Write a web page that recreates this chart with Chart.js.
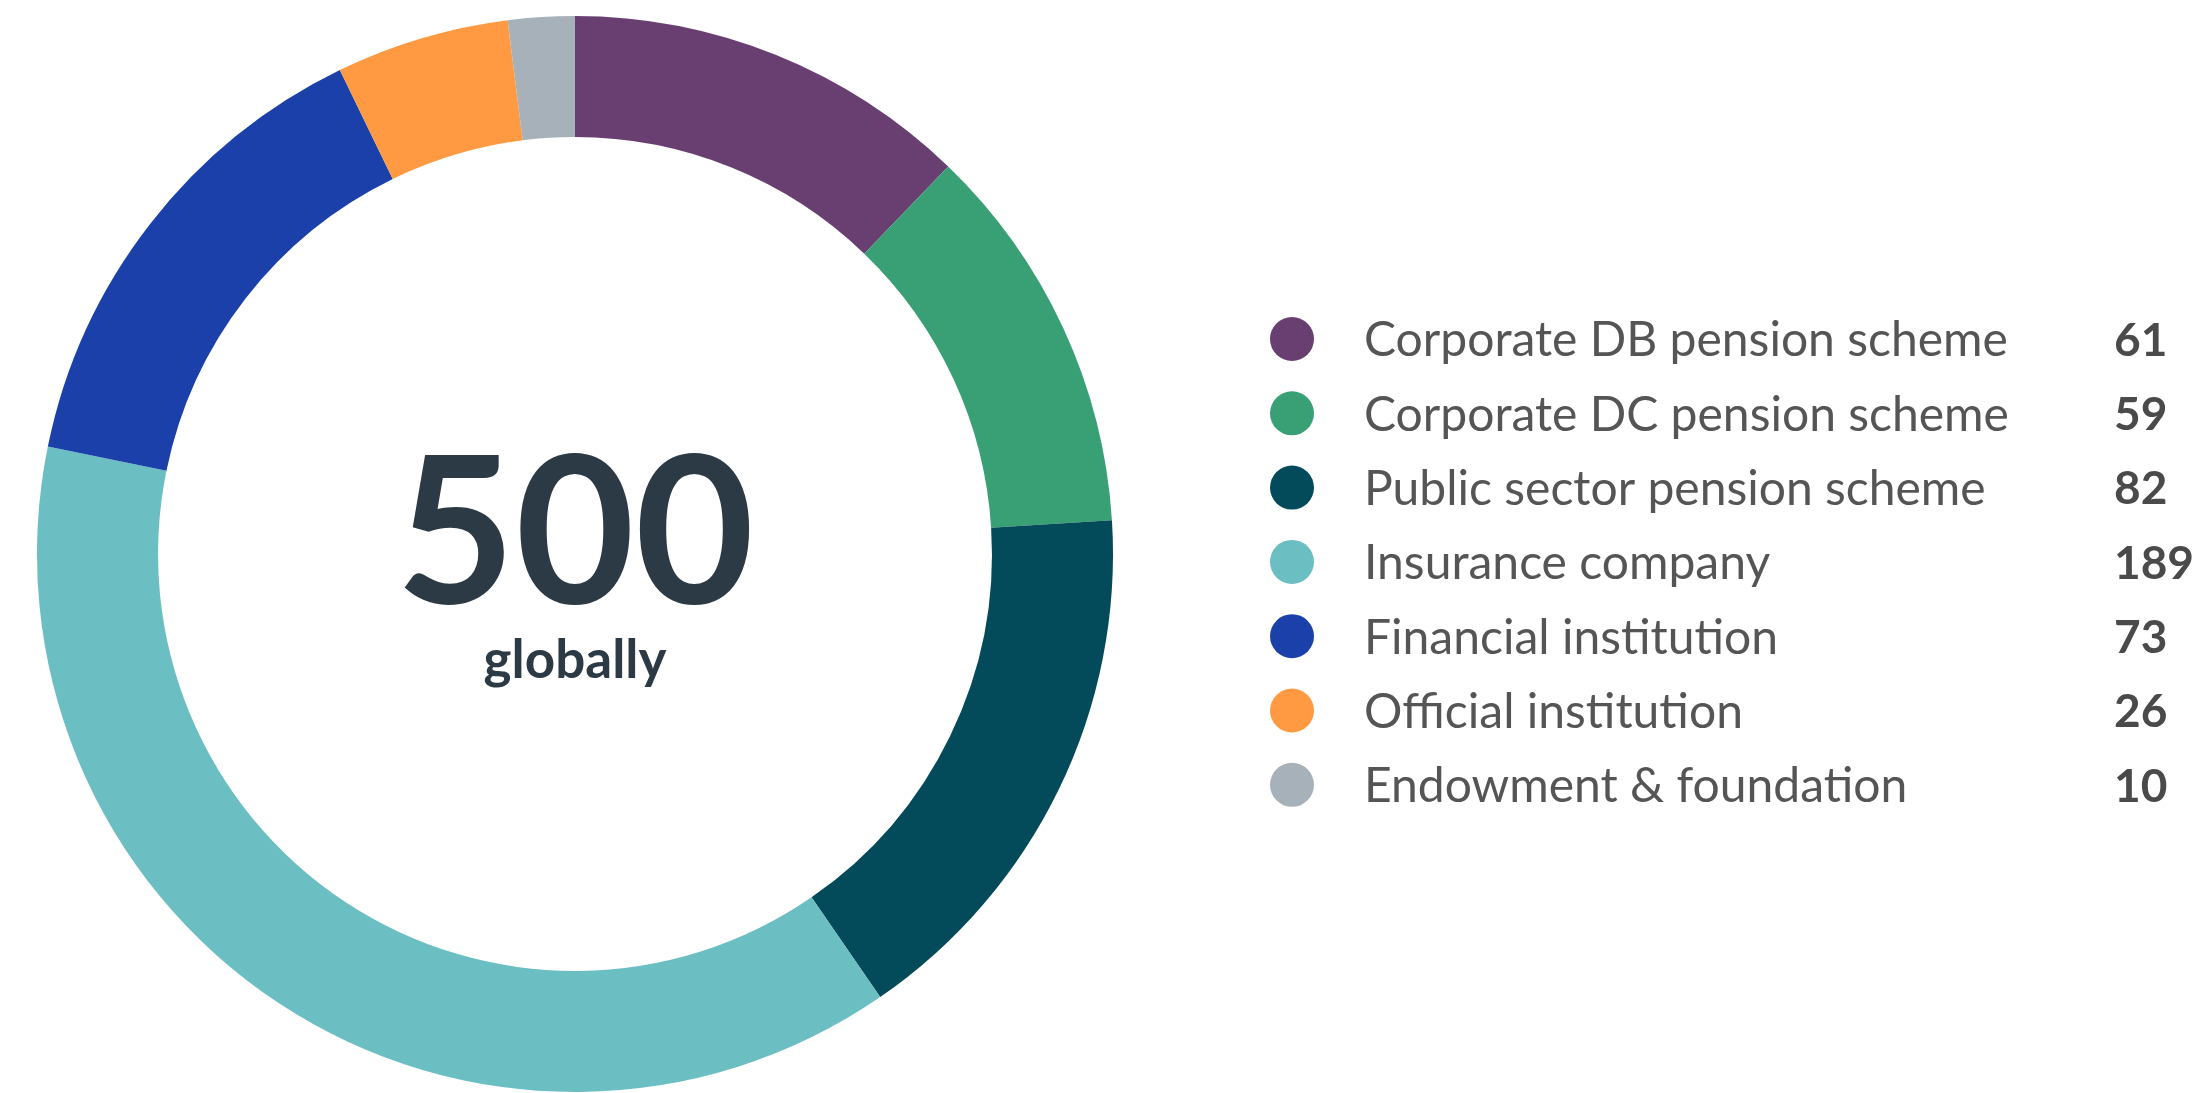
<!DOCTYPE html>
<html>
<head>
<meta charset="utf-8">
<script src="https://cdn.jsdelivr.net/npm/chart.js@4"></script>
<style>
  html, body { margin: 0; padding: 0; background: #fff; }
  #wrap { width: 2196px; height: 1093px; position: relative; }
</style>
</head>
<body>
<div id="wrap"><canvas id="investorChart" width="2196" height="1093"></canvas></div>
<script>
// Investor types
const categories = [
  "Corporate DB pension scheme",
  "Corporate DC pension scheme",
  "Public sector pension scheme",
  "Insurance company",
  "Financial institution",
  "Official institution",
  "Endowment & foundation"
];
const counts = [61, 59, 82, 189, 73, 26, 10];
const colors = ["#693f72", "#38a074", "#034a5a", "#6bbec2", "#1b40aa", "#ff9a42", "#a6b1ba"];
const centerValue = "500";
const centerLabel = "globally";

// Center text + side legend
const extras = {
  id: "extras",
  afterDraw(chart) {
    let ctx = chart.ctx;
    let arc = chart.getDatasetMeta(0).data[0];
    let cx = arc.x, cy = arc.y;
    ctx.save();
    ctx.fillStyle = "#2b3a44";
    ctx.textAlign = "center";
    ctx.textBaseline = "alphabetic";
    ctx.font = "bold 206px Lato";
    ctx.fillText(centerValue, cx, cy + 49);
    ctx.font = "bold 53px Lato";
    ctx.fillText(centerLabel, cx, cy + 124);

    // legend rows
    let y0 = 339, step = 74.3;
    chart.data.labels.forEach((label, i) => {
      let y = y0 + i * step;
      ctx.beginPath();
      ctx.fillStyle = colors[i];
      ctx.arc(1292, y, 22, 0, Math.PI * 2);
      ctx.fill();
      ctx.textAlign = "left";
      ctx.textBaseline = "middle";
      ctx.fillStyle = "#555555";
      ctx.font = "400 48px Lato";
      ctx.fillText(label, 1364, y + 2);
      ctx.fillStyle = "#4a4a4a";
      ctx.font = "bold 46px Lato";
      ctx.fillText(String(chart.data.datasets[0].data[i]), 2114, y + 2);
    });
    ctx.restore();
  }
};

let ctx = document.getElementById("investorChart").getContext("2d");
let investorChart = new Chart(ctx, {
  type: "doughnut",
  data: {
    labels: categories,
    datasets: [{
      data: counts,
      backgroundColor: colors,
      borderWidth: 0
    }]
  },
  options: {
    responsive: false,
    animation: false,
    cutout: "77.5%",
    layout: { padding: { left: 37, right: 1083, top: 16, bottom: 1 } },
    plugins: { legend: { display: false }, tooltip: { enabled: false } }
  },
  plugins: [extras]
});
</script>
</body>
</html>
